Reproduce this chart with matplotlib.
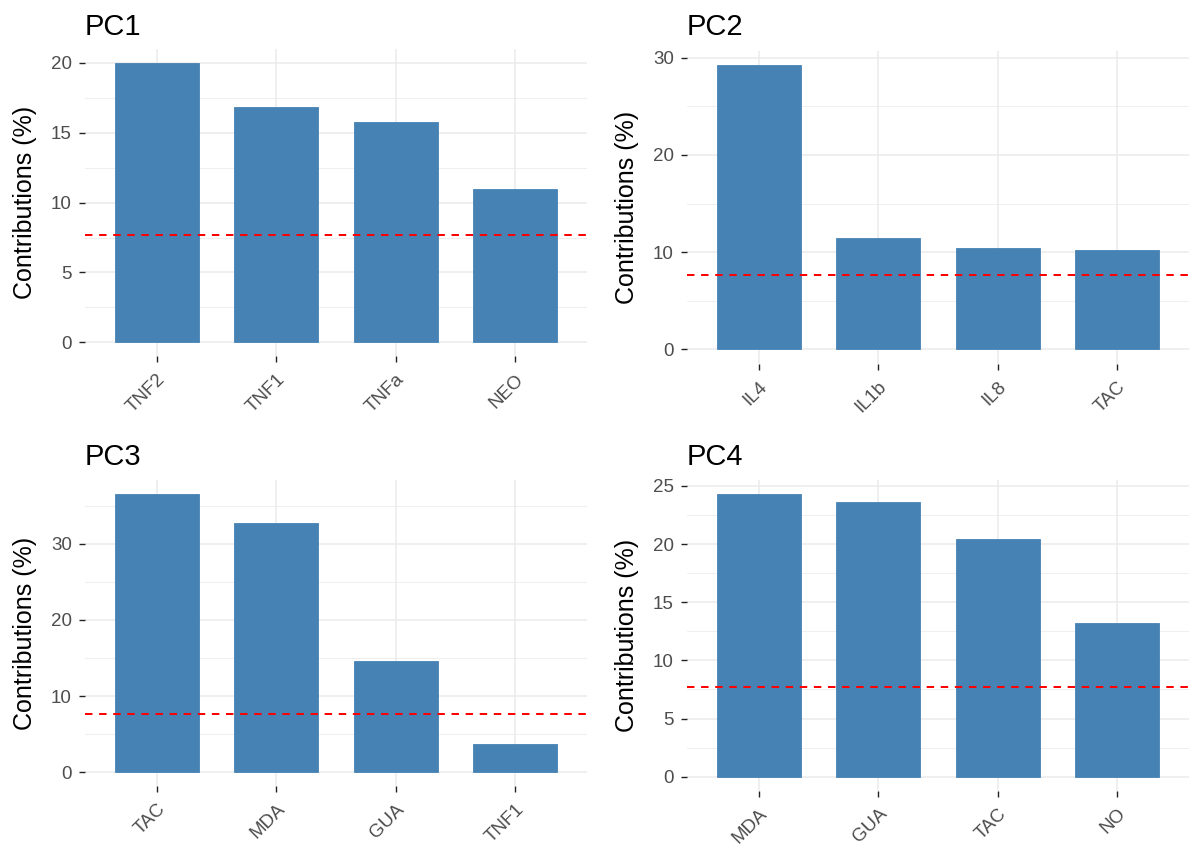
import matplotlib
matplotlib.use("Agg")
import matplotlib.pyplot as plt
from matplotlib.ticker import MultipleLocator

plt.rcParams['font.family'] = ['Liberation Sans', 'DejaVu Sans']

# ---- data ----
pc_titles = ["PC1", "PC2", "PC3", "PC4"]
pc1_vars = ["TNF2", "TNF1", "TNFa", "NEO"]
pc1_vals = [19.97, 16.82, 15.77, 10.97]
pc2_vars = ["IL4", "IL1b", "IL8", "TAC"]
pc2_vals = [29.28, 11.48, 10.45, 10.18]
pc3_vars = ["TAC", "MDA", "GUA", "TNF1"]
pc3_vals = [36.48, 32.67, 14.60, 3.75]
pc4_vars = ["MDA", "GUA", "TAC", "NO"]
pc4_vals = [24.28, 23.65, 20.41, 13.24]
expected = 7.69  # 100 / 13 variables
major_steps = [5, 10, 10, 5]

W, H = 1189, 857
fig = plt.figure(figsize=(W / 100, H / 100), dpi=100)

# panel boxes in pixels: left, right, top, bottom
boxes = [(85, 587, 49.4, 356.3), (687, 1189, 50.5, 363.5),
         (85, 587, 480.4, 786.2), (687, 1189, 480.2, 790.8)]
title_base = [35, 35, 465, 465]

panels = [(pc1_vars, pc1_vals), (pc2_vars, pc2_vals),
          (pc3_vars, pc3_vals), (pc4_vars, pc4_vals)]

for i, ((names, vals), box) in enumerate(zip(panels, boxes)):
    l, r, t, b = box
    ax = fig.add_axes([l / W, 1 - b / H, (r - l) / W, (b - t) / H])
    x = list(range(len(names)))
    ax.bar(x, vals, width=0.7, color="#4682B4", edgecolor="#4682B4",
           linewidth=0.6, zorder=2)
    ax.axhline(expected, color="red", linestyle=(0, (3.7, 3.3)),
               linewidth=1.45, zorder=3)
    vmax = max(vals)
    ax.set_ylim(-0.05 * vmax, 1.05 * vmax)
    ax.set_xlim(-0.6, len(names) - 1 + 0.6)
    ax.set_xticks(x)
    ax.set_xticklabels(names, rotation=45, ha="right", va="top",
                       rotation_mode="anchor")
    ax.yaxis.set_major_locator(MultipleLocator(major_steps[i]))
    ax.yaxis.set_minor_locator(MultipleLocator(major_steps[i] / 2))
    ax.grid(which="major", axis="both", color="#EBEBEB", linewidth=1.1, zorder=0)
    ax.grid(which="minor", axis="y", color="#EBEBEB", linewidth=0.55, zorder=0)
    ax.set_axisbelow(True)
    for s in ax.spines.values():
        s.set_visible(False)
    ax.tick_params(axis="both", which="major", direction="out", length=4.5,
                   width=1.0, color="#222222", labelcolor="#4D4D4D",
                   labelsize=13.5)
    ax.tick_params(axis="y", which="major", pad=5)
    ax.tick_params(axis="x", which="major", pad=6)
    ax.tick_params(axis="both", which="minor", length=0)
    ax.set_ylabel("Contributions (%)", fontsize=18, color="black")
    ax.yaxis.set_label_coords(-48 / (r - l), 0.5)
    fig.text(l / W, 1 - title_base[i] / H, pc_titles[i], fontsize=21,
             ha="left", va="baseline", color="black")

fig.savefig("out.png", dpi=100, facecolor="white")
